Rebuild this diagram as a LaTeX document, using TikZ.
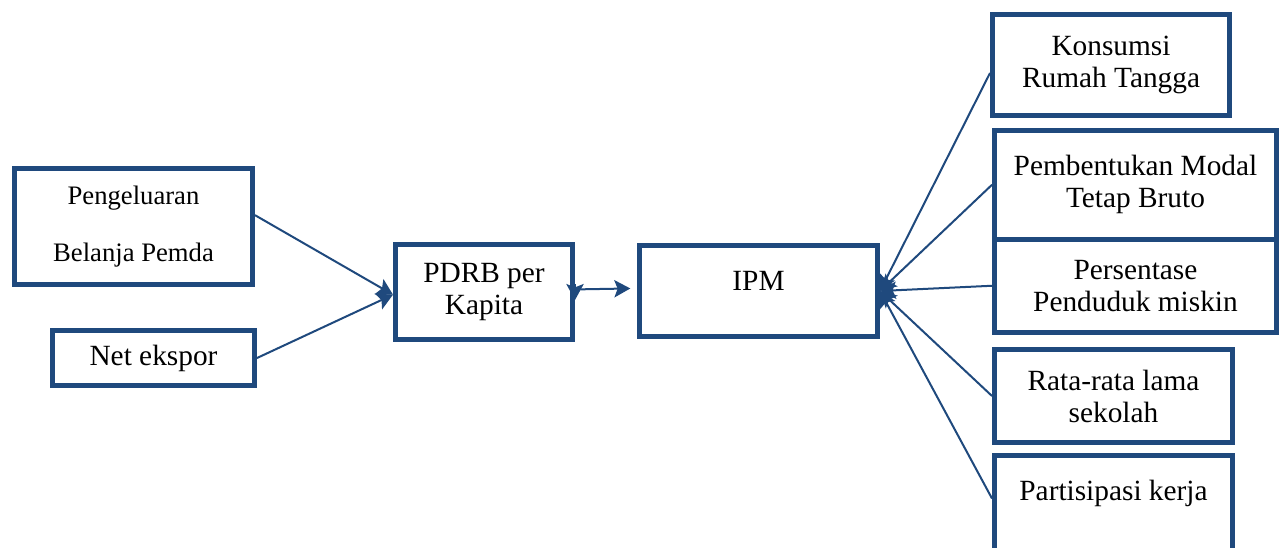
\documentclass[tikz,border=0pt]{standalone}
\usepackage{fontspec}
\setmainfont{Liberation Serif}
\usetikzlibrary{arrows.meta, positioning}
\definecolor{boxblue}{RGB}{31,73,125}

\begin{document}
\begin{tikzpicture}[x=0.75pt, y=-0.75pt,
    box/.style={draw=boxblue, line width=3.75pt, fill=white, align=center,
                inner sep=0pt, font=\fontsize{22}{24}\selectfont},
    link/.style={-{Stealth[length=12pt, width=13pt, inset=2.5pt]}, draw=boxblue, line width=1.5pt}]
    % Page
    \useasboundingbox (0,0) rectangle (1285,547);
    \clip (0,0) rectangle (1285,547);

    % Inputs
    \node[box, minimum width=178.5pt, minimum height=87pt, font=\fontsize{20}{24}\selectfont] (peng) at (133.5,226.5)
        {Pengeluaran\\[18.75pt]Belanja Pemda};
    \node[box, minimum width=151.5pt, minimum height=41.25pt] (netx) at (153.5,358) {Net ekspor};

    % Middle
    \node[box, minimum width=132.75pt, minimum height=71.25pt] (pdrb) at (484,292) {PDRB per\\Kapita};
    \node[box, minimum width=178.5pt, minimum height=68.25pt, text depth=15pt] (ipm) at (758.5,291) {IPM};

    % Indicators
    \node[box, minimum width=177.75pt, minimum height=75.75pt] (kons) at (1111,65) {Konsumsi\\Rumah Tangga};
    \node[box, minimum width=211.5pt, minimum height=81.4pt] (pemb) at (1135.5,184.75) {Pembentukan Modal\\Tetap Bruto};
    \node[box, minimum width=211.5pt, minimum height=70.1pt] (pers) at (1135.5,285.75) {Persentase\\Penduduk miskin};
    \node[box, minimum width=178.5pt, minimum height=69.75pt] (rata) at (1113.5,396) {Rata-rata lama\\sekolah};
    \node[box, minimum width=178.5pt, minimum height=76.5pt] (part) at (1113.5,506.5) {Partisipasi kerja\\\mbox{}};

    % Into PDRB
    \draw[link] ([yshift=8.5pt]peng.east) -- ([yshift=-2pt]pdrb.west);
    \draw[link] (netx.east) -- ([yshift=-2pt]pdrb.west);

    % PDRB to IPM
    \draw[link, shorten >=5pt] ([xshift=4pt, yshift=2pt]pdrb.east) -- ([yshift=2pt]ipm.west);
    \draw[link] ([yshift=6pt]pdrb.east) -- ([yshift=-6pt]pdrb.east);

    % Indicators into IPM
    \foreach \n/\s in {kons/-6pt, pemb/0pt, pers/0pt, rata/0pt, part/6pt}
        \draw[link] ([yshift=\s]\n.west) -- (ipm.east);
\end{tikzpicture}
\end{document}
